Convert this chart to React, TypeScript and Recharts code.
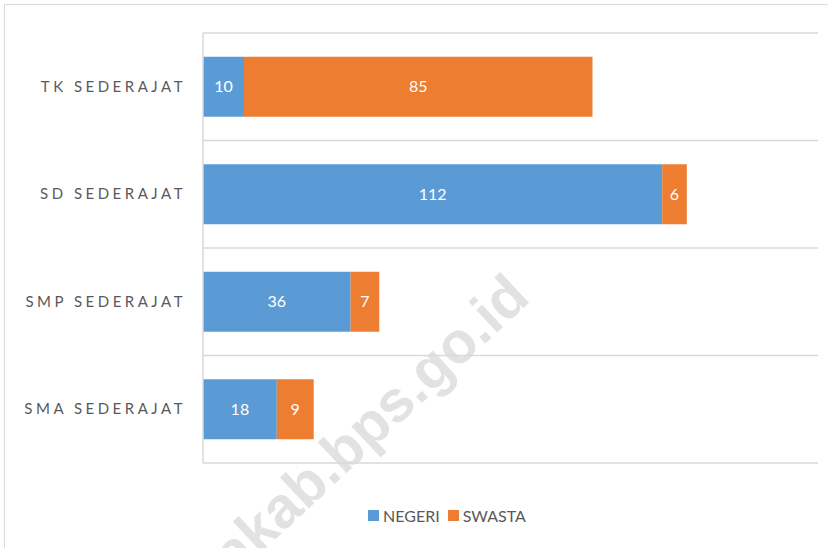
import React from 'react';
import { BarChart, Bar, XAxis, YAxis, CartesianGrid, Legend, LabelList } from 'recharts';

const categories = ['TK SEDERAJAT', 'SD SEDERAJAT', 'SMP SEDERAJAT', 'SMA SEDERAJAT'];
const negeri = [10, 112, 36, 18];
const swasta = [85, 6, 7, 9];
const seriesNames = ['NEGERI', 'SWASTA'];
const seriesColors = ['#5B9BD5', '#ED7D31'];
const watermark = 'akab.bps.go.id';

const data = categories.map((c, i) => ({ category: c, negeri: negeri[i], swasta: swasta[i] }));

const FONT = 'Lato, "Liberation Sans", sans-serif';

const CategoryTick = (props: any) => {
  const { x, y, payload } = props;
  return (
    <text x={x} y={y} dx={-9} dy={5} textAnchor="end" fill="#595959" fontSize={15} letterSpacing={3.5} fontFamily={FONT}>
      {payload.value}
    </text>
  );
};

const LegendContent = () => (
  <div style={{ display: 'flex', justifyContent: 'center', alignItems: 'center', height: 20, paddingLeft: 66, fontFamily: FONT, fontSize: 16, color: '#595959' }}>
    {seriesNames.map((n, i) => (
      <div key={n} style={{ display: 'flex', alignItems: 'center', marginRight: i === 0 ? 8 : 0 }}>
        <span style={{ display: 'inline-block', width: 11, height: 11, background: seriesColors[i], marginRight: 4 }} />
        <span>{n}</span>
      </div>
    ))}
  </div>
);

export default function App() {
  return (
    <div style={{ position: 'absolute', left: 0, top: 0, width: 828, height: 548, overflow: 'hidden', background: '#fff' }}>
      <div style={{ position: 'absolute', left: 4, top: 4, width: 900, height: 700, border: '1px solid #d9d9d9', boxSizing: 'border-box' }} />
      <svg width={828} height={548} style={{ position: 'absolute', left: 0, top: 0 }}>
        <text
          x={532}
          y={300}
          textAnchor="end"
          fontSize={58}
          fontWeight="bold"
          fontFamily='"Liberation Sans", Arial, sans-serif'
          fill="#e2e2e2"
          transform="rotate(-43 532 300)"
        >
          {watermark}
        </text>
      </svg>
      <div style={{ position: 'absolute', left: 0, top: 0 }}>
        <BarChart
          width={828}
          height={548}
          data={data}
          layout="vertical"
          margin={{ top: 33, right: 10, left: 0, bottom: 65 }}
          barCategoryGap="22%"
        >
          <CartesianGrid
            vertical={false}
            stroke="#d9d9d9"
            strokeWidth={1.5}
            horizontalCoordinatesGenerator={({ offset }: any) =>
              [0, 1, 2, 3, 4].map((i) => offset.top + (i * offset.height) / 4)
            }
          />
          <XAxis type="number" domain={[0, 150]} hide />
          <YAxis
            type="category"
            dataKey="category"
            width={203}
            axisLine={{ stroke: '#d9d9d9', strokeWidth: 1.5 }}
            tickLine={false}
            tick={<CategoryTick />}
            interval={0}
          />
          <Legend
            verticalAlign="bottom"
            content={<LegendContent />}
            wrapperStyle={{ top: 505, bottom: 'auto', left: 0, width: 828, height: 20 }}
          />
          <Bar dataKey="negeri" name={seriesNames[0]} stackId="a" fill={seriesColors[0]} isAnimationActive={false}>
            <LabelList dataKey="negeri" position="center" fill="#ffffff" fontSize={16} fontFamily={FONT} />
          </Bar>
          <Bar dataKey="swasta" name={seriesNames[1]} stackId="a" fill={seriesColors[1]} isAnimationActive={false}>
            <LabelList dataKey="swasta" position="center" fill="#ffffff" fontSize={16} fontFamily={FONT} />
          </Bar>
        </BarChart>
      </div>
    </div>
  );
}
